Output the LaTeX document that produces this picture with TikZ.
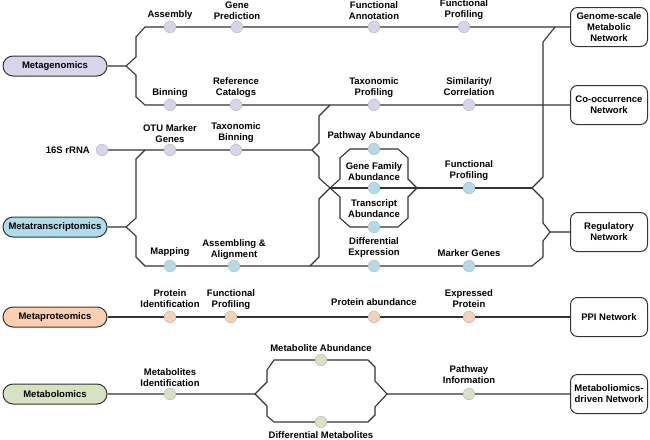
\documentclass[tikz,border=0pt]{standalone}
\usepackage{fontspec}
\setmainfont{Liberation Sans}
\usetikzlibrary{positioning,backgrounds}
\definecolor{genc}{HTML}{DAD4EA}
\definecolor{tranc}{HTML}{ADDCEA}
\definecolor{protc}{HTML}{FAD0B0}
\definecolor{metc}{HTML}{D7E3C0}
\definecolor{trackc}{HTML}{333333}
\begin{document}
\begin{tikzpicture}[x=1pt,y=-1pt,line join=round,line cap=round,
	font=\fontsize{9.5}{11}\selectfont\bfseries,
	omic/.style={draw=trackc,line width=1pt,rounded corners=10pt,minimum width=104pt,minimum height=20pt,inner sep=0pt},
	netw/.style={draw=trackc,line width=1pt,fill=white,rounded corners=7pt,minimum width=77pt,minimum height=39pt,align=center,inner sep=0pt},
	stn/.style={circle,draw=black!25,line width=0.6pt,minimum size=11.5pt,inner sep=0pt},
	lbl/.style={align=center,inner sep=0pt},
	track/.style={draw=trackc,line width=1.1pt}]
	\def\ya{27} \def\yb{105} \def\yc{150} \def\yd{188} \def\ye{266} \def\yf{317} \def\yg{394}
	\def\xa{170} \def\xb{236} \def\xc{374} \def\xd{469} \def\xn{609}
	\useasboundingbox (0,0) rectangle (650,439);
	% omics
	\node[omic,fill=genc] (mg) at (55,66) {Metagenomics};
	\node[omic,fill=tranc] (mt) at (55,227) {Metatranscriptomics};
	\node[omic,fill=protc] (mp) at (55,\yf) {Metaproteomics};
	\node[omic,fill=metc] (mb) at (55,\yg) {Metabolomics};
	% networks
	\node[netw] (gsm) at (\xn,\ya) {Genome-scale\\Metabolic\\Network};
	\node[netw] (coo) at (\xn,\yb) {Co-occurrence\\Network};
	\node[netw] (reg) at (\xn,232) {Regulatory\\Network};
	\node[netw] (ppi) at (\xn,\yf) {PPI Network};
	\node[netw] (mdn) at (\xn,\yg) {Metaboliomics-\\driven Network};
	% stations
	\node[stn,fill=genc] (asm) at (\xa,\ya) {};
	\node[stn,fill=genc] (gpr) at (237,\ya) {};
	\node[stn,fill=genc] (fan) at (\xc,\ya) {};
	\node[stn,fill=genc] (fpa) at (464,\ya) {};
	\node[stn,fill=genc] (bin) at (\xa,\yb) {};
	\node[stn,fill=genc] (rcat) at (\xb,\yb) {};
	\node[stn,fill=genc] (tpr) at (\xc,\yb) {};
	\node[stn,fill=genc] (sim) at (\xd,\yb) {};
	\node[stn,fill=genc] (s16) at (102,\yc) {};
	\node[stn,fill=genc] (otu) at (\xa,\yc) {};
	\node[stn,fill=genc] (tbin) at (\xb,\yc) {};
	\node[stn,fill=tranc] (pab) at (\xc,149) {};
	\node[stn,fill=tranc] (gfa) at (\xc,\yd) {};
	\node[stn,fill=tranc] (tab) at (\xc,227) {};
	\node[stn,fill=tranc] (fpb) at (\xd,\yd) {};
	\node[stn,fill=tranc] (map) at (\xa,\ye) {};
	\node[stn,fill=tranc] (asa) at (234,\ye) {};
	\node[stn,fill=tranc] (dex) at (\xc,\ye) {};
	\node[stn,fill=tranc] (mkg) at (\xd,\ye) {};
	\node[stn,fill=protc] (pid) at (\xa,\yf) {};
	\node[stn,fill=protc] (fpc) at (231,\yf) {};
	\node[stn,fill=protc] (pabu) at (\xc,\yf) {};
	\node[stn,fill=protc] (exp) at (\xd,\yf) {};
	\node[stn,fill=metc] (mid) at (\xa,\yg) {};
	\node[stn,fill=metc] (mab) at (321,360) {};
	\node[stn,fill=metc] (dme) at (321,422) {};
	\node[stn,fill=metc] (pin) at (\xd,\yg) {};
	% labels
	\node[lbl,above=1pt of asm] (asmL) {Assembly};
	\node[lbl,above=1pt of gpr] (gprL) {Gene\\Prediction};
	\node[lbl,above=1pt of fan] (fanL) {Functional\\Annotation};
	\node[lbl,above=1pt of fpa] (fpaL) {Functional\\Profiling};
	\node[lbl,above=1pt of bin] (binL) {Binning};
	\node[lbl,above=1pt of rcat] (rcatL) {Reference\\Catalogs};
	\node[lbl,above=1pt of tpr] (tprL) {Taxonomic\\Profiling};
	\node[lbl,above=3pt of sim] (simL) {Similarity/\\Correlation};
	\node[lbl,left=6pt of s16] (s16L) {16S rRNA};
	\node[lbl,above=1pt of otu] (otuL) {OTU Marker\\Genes};
	\node[lbl,above=1pt of tbin] (tbinL) {Taxonomic\\Binning};
	\node[lbl,above=2pt of pab] (pabL) {Pathway Abundance};
	\node[lbl,above=1pt of gfa] (gfaL) {Gene Family\\Abundance};
	\node[lbl,above=3pt of tab] (tabL) {Transcript\\Abundance};
	\node[lbl,above=1pt of fpb] (fpbL) {Functional\\Profiling};
	\node[lbl,above=3pt of map] (mapL) {Mapping};
	\node[lbl,above=0pt of asa] (asaL) {Assembling \&\\Alignment};
	\node[lbl,above=2pt of dex] (dexL) {Differential\\Expression};
	\node[lbl,above=3pt of mkg] (mkgL) {Marker Genes};
	\node[lbl,above=3pt of pid] (pidL) {Protein\\Identification};
	\node[lbl,above=1pt of fpc] (fpcL) {Functional\\Profiling};
	\node[lbl,above=5pt of pabu] (pabuL) {Protein abundance};
	\node[lbl,above=3pt of exp] (expL) {Expressed\\Protein};
	\node[lbl,above=1pt of mid] (midL) {Metabolites\\Identification};
	\node[lbl,above=2pt of mab] (mabL) {Metabolite Abundance};
	\node[lbl,below=3pt of dme] (dmeL) {Differential Metabolites};
	\node[lbl,above=4pt of pin] (pinL) {Pathway\\Information};
	% forks
	\coordinate (mgj) at (126,66);
	\coordinate (mtj) at (126,227);
	\coordinate (rj) at (312,\yc);
	\coordinate (xj) at (330,\yd);
	\coordinate (hr) at (417,\yd);
	\coordinate (fj) at (532,\yd);
	\coordinate (rgj) at (550,232);
	\coordinate (mbj) at (255,\yg);
	\coordinate (mbr) at (387,\yg);
	\begin{scope}[on background layer]
		\draw[track] (mg) -- (mgj) -- (136,57) -- (136,37) -- (145,\ya) -- (asm) -- (gpr) -- (fan) -- (fpa) -- (gsm);
		\draw[track] (mgj) -- (136,75) -- (136,97) -- (145,\yb) -- (bin) -- (rcat) -- (tpr) -- (sim) -- (coo);
		\draw[track] (555,\ya) -- (543,42) -- (543,177) -- (fj) -- (543,199) -- (543,223) -- (rgj) -- (reg);
		\draw[track] (rgj) -- (543,241) -- (543,257) -- (532,\ye);
		\draw[track] (s16) -- (otu) -- (tbin) -- (rj) -- (319,143) -- (319,116) -- (330,\yb);
		\draw[track] (rj) -- (319,157) -- (319,178) -- (xj) -- (340,197) -- (340,218) -- (350,227) -- (tab) -- (398,227) -- (408,218) -- (408,197) -- (hr);
		\draw[track] (310,\ye) -- (319,257) -- (319,199) -- (xj) -- (340,179) -- (340,158) -- (350,149) -- (pab) -- (398,149) -- (408,158) -- (408,179) -- (hr);
		\draw[track] (xj) -- (gfa) -- (hr) -- (fpb) -- (fj);
		\draw[track] (mt) -- (mtj) -- (136,218) -- (136,159) -- (145,\yc);
		\draw[track] (mtj) -- (136,236) -- (136,257) -- (145,\ye) -- (map) -- (asa) -- (dex) -- (mkg) -- (532,\ye);
		\draw[track] (mp) -- (pid) -- (fpc) -- (pabu) -- (exp) -- (ppi);
		\draw[track] (mb) -- (mid) -- (mbj) -- (267,382) -- (267,370) -- (274,360) -- (mab) -- (368,360) -- (375,367) -- (375,381) -- (mbr) -- (pin) -- (mdn);
		\draw[track] (mbj) -- (267,406) -- (267,416) -- (274,422) -- (dme) -- (368,422) -- (375,415) -- (375,407) -- (mbr);
	\end{scope}
\end{tikzpicture}
\end{document}
